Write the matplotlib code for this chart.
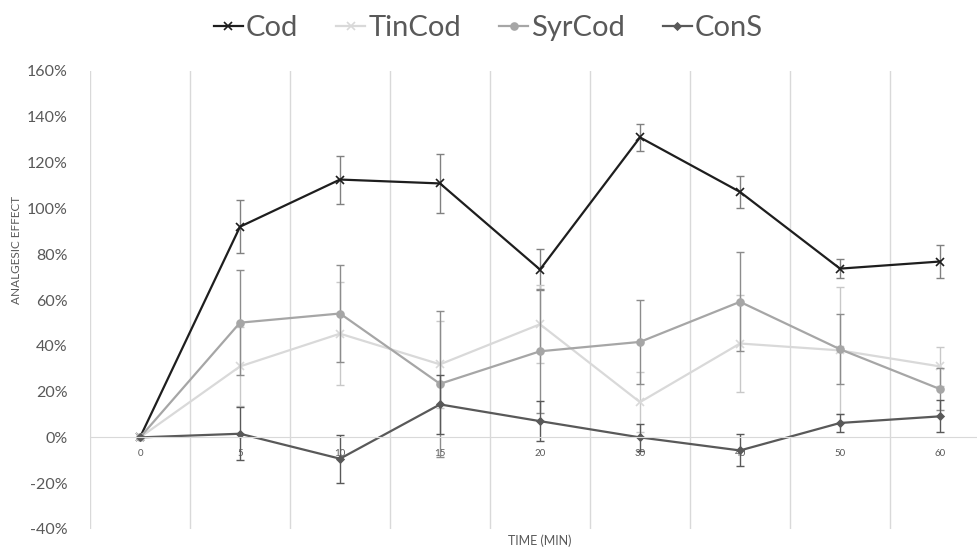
import numpy as np
import matplotlib
matplotlib.use("Agg")
import matplotlib.pyplot as plt
from matplotlib.ticker import PercentFormatter, FixedLocator

plt.rcParams['font.family'] = ['Lato', 'DejaVu Sans']
plt.rcParams['axes.unicode_minus'] = False

# time points (categories) and analgesic effect in %
times = ['0', '5', '10', '15', '20', '30', '40', '50', '60']

cod = [0, 92, 112.6, 110.9, 73.3, 131, 107.2, 73.7, 76.8]
cod_err = [0, 11.5, 10.5, 12.8, 9, 6, 7, 4, 7]

tincod = [0, 31, 45.3, 31.9, 49.4, 15.4, 41, 38, 31]
tincod_err = [0, 17.3, 22.5, 19, 17, 13, 21, 27.7, 8.5]

syrcod = [0, 50.1, 54.1, 23.4, 37.6, 41.7, 59.2, 38.5, 21.1]
syrcod_err = [0, 23, 21, 32, 27, 18.3, 21.6, 15.3, 9]

cons = [0, 1.6, -9.3, 14.4, 7.1, 0, -5.7, 6.3, 9.2]
cons_err = [0, 11.5, 10.5, 13, 8.7, 6, 7, 4, 7]

fig = plt.figure(figsize=(9.77, 5.49), dpi=100)
# axes runs a little past the right edge, like the cropped original
ax = fig.add_axes([90 / 977, 20 / 549, 900 / 977, 458 / 549])

x = np.arange(len(times))

series = [
    ('Cod', cod, cod_err, '#1e1e1e', '#808080', 'x', 6),
    ('TinCod', tincod, tincod_err, '#d9d9d9', '#c8c8c8', 'x', 6),
    ('SyrCod', syrcod, syrcod_err, '#a6a6a6', '#8c8c8c', 'o', 5),
    ('ConS', cons, cons_err, '#595959', '#595959', 'D', 3.5),
]

handles = []
for name, vals, errs, col, ecol, mk, ms in series:
    # skip the zero-width bar at t=0
    ax.errorbar(x[1:], vals[1:], yerr=errs[1:], fmt='none', ecolor=ecol,
                elinewidth=1, capsize=3, capthick=1)
    ln, = ax.plot(x, vals, color=col, lw=1.6, marker=mk, ms=ms, mew=1.2,
                  label=name)
    handles.append(ln)

ax.set_xlim(-0.5, len(times) - 0.5)
ax.set_ylim(-40, 160)
ax.set_yticks(np.arange(-40, 161, 20))
ax.yaxis.set_major_formatter(PercentFormatter(decimals=0))
ax.tick_params(axis='y', length=0, pad=16, labelsize=11.5, labelcolor='#595959')

ax.set_xticks(x)
ax.set_xticklabels(times)
ax.tick_params(axis='x', length=0, pad=8, labelsize=7, labelcolor='#595959')
ax.xaxis.set_minor_locator(FixedLocator(np.arange(-0.5, len(times), 1)))
ax.grid(which='minor', axis='x', color='#d9d9d9', lw=1)
ax.tick_params(axis='x', which='minor', length=0)

for s in ['top', 'right', 'left']:
    ax.spines[s].set_visible(False)
ax.spines['bottom'].set_position(('data', 0))
ax.spines['bottom'].set_color('#d9d9d9')

fig.text(540 / 977, 1 - 541 / 549, 'TIME (MIN)',
         ha='center', va='center', fontsize=9, color='#595959')
fig.text(17 / 977, 1 - 250 / 549, 'ANALGESIC EFFECT', rotation=90,
         ha='center', va='center', fontsize=8.5, color='#595959')

fig.legend(handles=handles, loc='upper center', bbox_to_anchor=(0.5, 1.02),
           ncol=4, frameon=False, fontsize=21, handlelength=1.0,
           handletextpad=0.1, columnspacing=1.3, labelcolor='#595959')

fig.savefig('out.png', dpi=100)
